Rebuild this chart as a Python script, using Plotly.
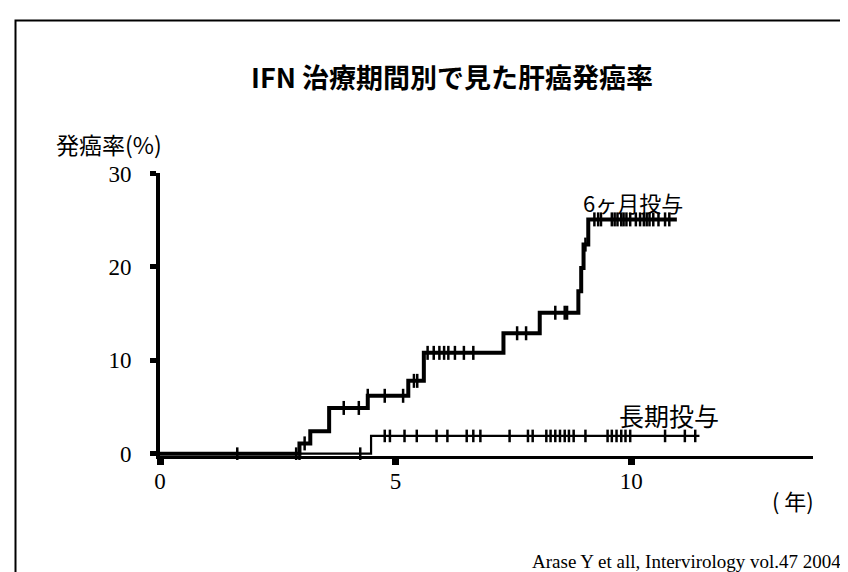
import plotly.graph_objects as go

# ---------------- data ----------------
# 6-month IFN group: step times (years) and cumulative incidence (%)
six_month_times = [0, 2.96, 3.19, 3.59, 4.41, 5.27, 5.60, 7.29, 8.06, 8.88, 8.94, 8.99, 9.09, 10.97]
six_month_rates = [0, 1.1, 2.4, 4.9, 6.2, 7.8, 10.8, 12.9, 15.1, 17.4, 19.9, 22.4, 25.1, 25.1]
six_month_censored = [3.07, 3.90, 4.22, 4.41, 4.77, 5.16, 5.39, 5.46,
                      5.68, 5.81, 5.93, 6.03, 6.12, 6.26, 6.45, 6.65,
                      7.58, 7.77, 8.39, 8.59, 8.64, 9.03,
                      9.22, 9.30, 9.36, 9.59, 9.65, 9.71, 9.79, 9.84, 9.90, 9.98,
                      10.10, 10.19, 10.27, 10.33, 10.39, 10.47, 10.58, 10.72, 10.81]

# long-term IFN group
long_term_times = [0, 4.48, 11.45]
long_term_rates = [0, 1.9, 1.9]
long_term_censored = [1.64, 2.89, 2.96, 4.25, 4.77, 4.88, 5.19, 5.45, 5.87, 6.10, 6.51, 6.65,
                      6.80, 7.42, 7.81, 7.91, 8.20, 8.29, 8.39, 8.49, 8.59, 8.68, 8.78,
                      9.03, 9.50, 9.59, 9.69, 9.79, 9.88, 9.98, 10.72, 11.14, 11.36]

y_ticks = [0, 10, 20, 30]
x_ticks = [0, 5, 10]

title_text = "IFN 治療期間別で見た肝癌発癌率"
y_title = "発癌率(%)"
x_title = "( 年)"
label_six = "6ヶ月投与"
label_long = "長期投与"
citation = "Arase Y et all, Intervirology vol.47 2004"


def level_at(times, rates, t):
    lv = rates[0]
    for ti, ri in zip(times, rates):
        if ti <= t:
            lv = ri
    return lv


# ---------------- layout geometry ----------------
W, H = 848, 572
ML, MR, MT, MB = 152, 43, 165, 124
PW, PH = W - ML - MR, H - MT - MB


def px(x):
    return (x - ML) / PW


def py(y):
    return (H - MB - y) / PH


CJK = "Noto Sans CJK JP"
SERIF = "Liberation Serif, Times New Roman, serif"

fig = go.Figure()

fig.add_trace(go.Scatter(x=long_term_times, y=long_term_rates, mode="lines",
                         line=dict(shape="hv", color="black", width=2.2),
                         hoverinfo="skip", showlegend=False))
fig.add_trace(go.Scatter(x=long_term_censored,
                         y=[level_at(long_term_times, long_term_rates, t) for t in long_term_censored],
                         mode="markers",
                         marker=dict(symbol="line-ns-open", size=9, color="black",
                                     line=dict(width=2.5, color="black")),
                         cliponaxis=False, hoverinfo="skip", showlegend=False))

fig.add_trace(go.Scatter(x=six_month_times, y=six_month_rates, mode="lines",
                         line=dict(shape="hv", color="black", width=4),
                         hoverinfo="skip", showlegend=False))
fig.add_trace(go.Scatter(x=six_month_censored,
                         y=[level_at(six_month_times, six_month_rates, t) for t in six_month_censored],
                         mode="markers",
                         marker=dict(symbol="line-ns-open", size=10, color="black",
                                     line=dict(width=2.5, color="black")),
                         cliponaxis=False, hoverinfo="skip", showlegend=False))

annotations = [
    dict(text=title_text, x=px(444), y=py(68), font=dict(family=CJK, size=27, color="black", weight="bold"),
         xanchor="center", yanchor="middle"),
    dict(text=y_title, x=px(101), y=py(136), font=dict(family=CJK, size=23, color="black"),
         xanchor="center", yanchor="middle"),
    dict(text=label_six, x=px(625), y=py(194), font=dict(family=CJK, size=22, color="black"),
         xanchor="center", yanchor="middle"),
    dict(text=label_long, x=px(661), y=py(407), font=dict(family=CJK, size=25, color="black"),
         xanchor="center", yanchor="middle"),
    dict(text=x_title, x=px(785), y=py(492), font=dict(family=CJK, size=22, color="black"),
         xanchor="center", yanchor="middle"),
    dict(text=citation, x=px(835), y=py(553), font=dict(family=SERIF, size=19, color="black"),
         xanchor="right", yanchor="middle"),
]
for a in annotations:
    a.update(xref="paper", yref="paper", showarrow=False)

border = dict(type="path", xref="paper", yref="paper",
              path=f"M {px(7.5)} {py(575)} L {px(7.5)} {py(12.5)} L {px(850)} {py(12.5)}",
              line=dict(color="black", width=2))

fig.update_layout(
    width=W, height=H,
    margin=dict(l=ML, r=MR, t=MT, b=MB),
    paper_bgcolor="white", plot_bgcolor="white",
    showlegend=False,
    annotations=annotations,
    shapes=[border],
    xaxis=dict(range=[0, 13.86], tickvals=x_ticks, ticktext=[str(v) for v in x_ticks],
               showgrid=False, zeroline=False, showline=True, linecolor="black", linewidth=3,
               ticks="outside", ticklen=6, tickwidth=7, tickcolor="black", ticklabelstandoff=-4,
               tickfont=dict(family=SERIF, size=23, color="black")),
    yaxis=dict(range=[-0.25, 30.07], tickvals=y_ticks, ticktext=[str(v) for v in y_ticks],
               showgrid=False, zeroline=False, showline=True, linecolor="black", linewidth=4,
               ticks="outside", ticklen=6, tickwidth=5, tickcolor="black", ticklabelstandoff=14,
               tickfont=dict(family=SERIF, size=23, color="black")),
)

fig.write_html("out.html")
